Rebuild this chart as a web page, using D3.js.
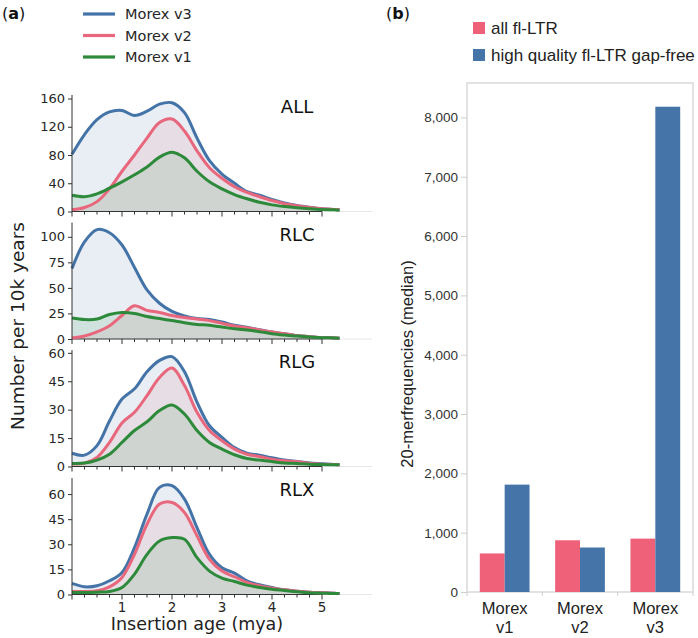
<!DOCTYPE html>
<meta charset="utf-8">
<style>
  body { margin: 0; background: #fff; }
  svg { display: block; }
  .lbl { font-family: "DejaVu Sans", sans-serif; fill: #262626; }
  .rlbl { font-family: "Liberation Sans", Arial, sans-serif; fill: #222; }
</style>
<svg width="698" height="638"></svg>
<script src="https://d3js.org/d3.v7.min.js"></script>
<script>

  // ---- panel (a): insertion age distributions ----
  var ages = [0, 0.25, 0.5, 0.75, 1, 1.25, 1.5, 1.75, 2, 2.25, 2.5, 2.75, 3,
    3.25, 3.5, 3.75, 4, 4.25, 4.5, 4.75, 5, 5.25, 5.35];

  var panels = ["ALL", "RLC", "RLG", "RLX"];
  var versions = ["Morex v3", "Morex v2", "Morex v1"];
  var versionColors = ["#4473a8", "#e8677c", "#2c8a3a"];

  var allV3 = [81, 109, 130, 141, 143, 136, 142, 152, 154, 140, 104, 72, 53, 40, 28, 23, 17, 12, 8.5, 6, 4, 3, 2.4];
  var allV2 = [2.4, 5.6, 14, 32, 57, 80, 104, 126, 131, 114, 86, 62, 47, 35, 27, 21, 15.5, 11, 8, 5.6, 3.8, 2.8, 2.4];
  var allV1 = [23, 21, 25, 33, 42, 52, 63, 77, 84, 76, 57, 42, 32, 24, 18, 13, 9.4, 7, 5.2, 3.8, 2.8, 2.4, 1.9];

  var rlcV3 = [69, 95, 107, 104, 92, 70, 48, 35, 27, 22.5, 20, 19, 16.6, 13.4, 11.4, 9.1, 6.8, 5.2, 3.3, 2.3, 1.3, 1, 0.7];
  var rlcV2 = [1, 3, 7, 13, 23, 32.5, 28, 26, 23, 21, 19.5, 18, 15.3, 12.7, 11, 8.8, 6.8, 5.2, 3.3, 2.3, 1.3, 1, 0.7];
  var rlcV1 = [20.5, 19, 19.5, 24, 26, 25, 22, 20, 18, 16, 14.3, 13.4, 11.7, 10, 8.8, 7.2, 5.2, 3.9, 2.9, 2, 1.3, 1, 0.7];

  var rlgV3 = [7, 6, 11, 24, 35.6, 41, 50, 56, 58, 50, 34, 21.5, 15.4, 10, 7, 6, 4.6, 3.4, 2.6, 1.8, 1.4, 1, 0.9];
  var rlgV2 = [1.4, 1.8, 4.8, 12.7, 23, 28.6, 37.4, 47, 52, 42.7, 28.6, 19, 13.6, 9.2, 6.5, 5.3, 3.9, 3, 2.5, 1.6, 1.2, 1, 0.9];
  var rlgV1 = [1.6, 1.8, 3.4, 6.5, 12.7, 19, 23.6, 29.5, 32.5, 27.7, 19, 12.7, 9.2, 6.2, 4.2, 3.4, 2.6, 1.9, 1.6, 1.2, 1, 0.9, 0.9];

  var rlxV3 = [6.6, 4.6, 5.2, 8.2, 13.2, 28, 48, 64, 65, 57, 40, 24, 16, 12.8, 8.2, 5.8, 4.2, 2.8, 2, 1.4, 1, 0.8, 0.6];
  var rlxV2 = [1.8, 1.8, 2.2, 4.6, 10.2, 24, 42, 54, 55, 49, 35, 21, 14, 10.6, 7.2, 5.2, 3.8, 2.8, 2, 1.4, 1, 0.8, 0.6];
  var rlxV1 = [1.2, 1.2, 1.4, 1.8, 4.2, 12.2, 24, 32, 34, 33, 22, 14, 9.8, 7.8, 5.6, 4.2, 3.2, 2.4, 1.6, 1, 0.8, 0.6, 0.6];

  var panelSeries = [
    [allV3, allV2, allV1],
    [rlcV3, rlcV2, rlcV1],
    [rlgV3, rlgV2, rlgV1],
    [rlxV3, rlxV2, rlxV1]
  ];
  var panelTicks = [
    [0, 40, 80, 120, 160],
    [0, 25, 50, 75, 100],
    [0, 15, 30, 45, 60],
    [0, 15, 30, 45, 60]
  ];
  var panelMax = [165, 114, 61.5, 69.6];
  var xTickLabels = [1, 2, 3, 4, 5];

  // ---- panel (b): 20-mer frequencies ----
  var groups = ["Morex v1", "Morex v2", "Morex v3"];
  var barSeries = ["all fl-LTR", "high quality fl-LTR gap-free"];
  var barColors = ["#ee6178", "#4474a8"];
  var allFlLtr = [650, 872, 900];
  var hqGapFree = [1810, 750, 8180];
  var barTicks = [0, 1000, 2000, 3000, 4000, 5000, 6000, 7000, 8000];

  var svg = d3.select("svg");

  // ================= panel (a) =================
  var x = d3.scaleLinear().domain([0, 6]).range([72, 372]);
  var panelTop = [95, 222.5, 350, 478];
  var panelH = 116.5;

  svg.append("text").attr("class", "lbl").attr("x", 2).attr("y", 19)
    .style("font-size", "16px").style("fill", "#111")
    .html('(<tspan font-weight="bold">a</tspan>)');

  // legend
  var leg = svg.append("g");
  versions.forEach(function (v, i) {
    var yy = 14 + i * 21.5;
    leg.append("line").attr("x1", 83).attr("x2", 115).attr("y1", yy).attr("y2", yy)
      .attr("stroke", versionColors[i]).attr("stroke-width", 3.2);
    leg.append("text").attr("class", "lbl").attr("x", 125).attr("y", yy)
      .attr("dy", "0.35em").style("font-size", "14.5px").text(v);
  });

  panels.forEach(function (name, p) {
    var top = panelTop[p], bottom = top + panelH;
    var y = d3.scaleLinear().domain([0, panelMax[p]]).range([bottom, top]);
    var g = svg.append("g");

    var area = d3.area()
      .x(function (d, i) { return x(ages[i]); })
      .y0(y(0))
      .y1(function (d) { return y(d); })
      .curve(d3.curveCatmullRom);
    var line = d3.line()
      .x(function (d, i) { return x(ages[i]); })
      .y(function (d) { return y(d); })
      .curve(d3.curveCatmullRom);

    panelSeries[p].forEach(function (s, i) {
      g.append("path").attr("d", area(s))
        .attr("fill", versionColors[i]).attr("fill-opacity", 0.12);
    });

    // x axis line, faint beyond 5
    g.append("line").attr("x1", x(5)).attr("x2", x(6)).attr("y1", bottom).attr("y2", bottom)
      .attr("stroke", "#e6e6e6").attr("stroke-width", 1);
    g.append("line").attr("x1", x(0)).attr("x2", x(5)).attr("y1", bottom).attr("y2", bottom)
      .attr("stroke", "#333").attr("stroke-width", 1);

    panelSeries[p].forEach(function (s, i) {
      g.append("path").attr("d", line(s))
        .attr("fill", "none").attr("stroke", versionColors[i])
        .attr("stroke-width", 3).attr("stroke-linejoin", "round");
    });

    // x ticks every 0.25
    d3.range(0, 5.001, 0.25).forEach(function (t) {
      var major = Math.abs(t - Math.round(t)) < 1e-6;
      g.append("line").attr("x1", x(t)).attr("x2", x(t))
        .attr("y1", bottom).attr("y2", bottom + (major ? 5 : 3))
        .attr("stroke", "#333").attr("stroke-width", 1);
    });

    // y axis
    var yAxis = d3.axisLeft(y).tickValues(panelTicks[p]).tickSize(4).tickPadding(3);
    var ya = g.append("g").attr("transform", "translate(" + x(0) + ",0)").call(yAxis);
    ya.select(".domain").attr("d", "M0," + top + "V" + bottom).attr("stroke", "#333");
    ya.selectAll(".tick line").attr("stroke", "#333");
    ya.selectAll(".tick text").attr("class", "lbl")
      .style("font-size", "13px").style("fill", "#262626");

    g.append("text").attr("class", "lbl").attr("x", 297).attr("y", top + 18)
      .attr("text-anchor", "middle").style("font-size", "18px").style("fill", "#111")
      .text(name);

    if (p === panels.length - 1) {
      xTickLabels.forEach(function (t) {
        g.append("text").attr("class", "lbl").attr("x", x(t)).attr("y", bottom + 17)
          .attr("text-anchor", "middle").style("font-size", "13.5px").text(t);
      });
    }
  });

  svg.append("text").attr("class", "lbl")
    .attr("transform", "translate(24,326) rotate(-90)")
    .attr("text-anchor", "middle").style("font-size", "18.5px").style("fill", "#222")
    .text("Number per 10k years");
  svg.append("text").attr("class", "lbl").attr("x", 197).attr("y", 630)
    .attr("text-anchor", "middle").style("font-size", "17.5px").style("fill", "#222")
    .text("Insertion age (mya)");

  // ================= panel (b) =================
  svg.append("text").attr("class", "lbl").attr("x", 386).attr("y", 19)
    .style("font-size", "16px").style("fill", "#111")
    .html('(<tspan font-weight="bold">b</tspan>)');

  barSeries.forEach(function (s, i) {
    var yy = 28 + i * 27;
    svg.append("rect").attr("x", 473).attr("y", yy - 6).attr("width", 12).attr("height", 12)
      .attr("fill", barColors[i]);
    svg.append("text").attr("class", "rlbl").attr("x", 491).attr("y", yy)
      .attr("dy", "0.35em").style("font-size", "17px").text(s);
  });

  var bx0 = 467, bx1 = 693, byTop = 83, byBot = 592;
  var x0 = d3.scaleBand().domain(groups).range([bx0, bx1]).paddingInner(0.34).paddingOuter(0.17);
  var x1 = d3.scaleBand().domain(barSeries).range([0, x0.bandwidth()]);
  var by = d3.scaleLinear().domain([0, 8580]).range([byBot, byTop]);

  svg.append("rect").attr("x", bx0).attr("y", byTop).attr("width", bx1 - bx0).attr("height", byBot - byTop)
    .attr("fill", "none").attr("stroke", "#cfcfcf").attr("stroke-width", 1.2);

  var barData = [allFlLtr, hqGapFree];
  var bars = svg.append("g");
  groups.forEach(function (gName, gi) {
    barSeries.forEach(function (s, si) {
      var v = barData[si][gi];
      bars.append("rect")
        .attr("x", x0(gName) + x1(s))
        .attr("y", by(v))
        .attr("width", x1.bandwidth())
        .attr("height", by(0) - by(v))
        .attr("fill", barColors[si]);
    });
  });

  // category separator ticks on bottom
  var step = x0.step();
  [bx0, bx0 + step, bx0 + 2 * step, bx1].forEach(function (t) {
    svg.append("line").attr("x1", t).attr("x2", t).attr("y1", byBot).attr("y2", byBot + 4)
      .attr("stroke", "#cfcfcf");
  });

  var bAxis = d3.axisLeft(by).tickValues(barTicks).tickSize(6).tickPadding(3)
    .tickFormat(d3.format(","));
  var ba = svg.append("g").attr("transform", "translate(" + bx0 + ",0)").call(bAxis);
  ba.select(".domain").remove();
  ba.selectAll(".tick line").attr("stroke", "#cfcfcf");
  ba.selectAll(".tick text").attr("class", "rlbl").style("font-size", "13.5px").style("fill", "#333");

  groups.forEach(function (gName) {
    var parts = gName.split(" ");
    var cx = x0(gName) + x0.bandwidth() / 2;
    svg.append("text").attr("class", "rlbl").attr("x", cx).attr("y", 614)
      .attr("text-anchor", "middle").style("font-size", "16.5px").text(parts[0]);
    svg.append("text").attr("class", "rlbl").attr("x", cx).attr("y", 633)
      .attr("text-anchor", "middle").style("font-size", "16.5px").text(parts[1]);
  });

  svg.append("text").attr("class", "rlbl")
    .attr("transform", "translate(413,364) rotate(-90)")
    .attr("text-anchor", "middle").style("font-size", "16.5px").style("fill", "#222")
    .text("20-merfrequencies (median)");

</script>
